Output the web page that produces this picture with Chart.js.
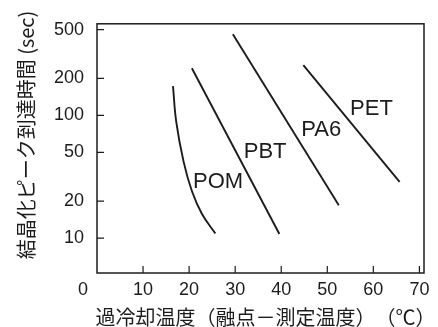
<!DOCTYPE html>
<html>
<head>
<meta charset="utf-8">
<script src="https://cdn.jsdelivr.net/npm/chart.js@4/dist/chart.umd.min.js"></script>
<style>
  html, body { margin: 0; padding: 0; background: #ffffff; }
  #wrap { width: 438px; height: 327px; position: relative; }
</style>
</head>
<body>
<div id="wrap"><canvas id="c" width="438" height="327"></canvas></div>
<script>
// ---- data ----
const seriesNames = ['POM', 'PBT', 'PA6', 'PET'];
const pomX = [16.5, 17.2, 18.8, 20.6, 22.8, 25.7];
const pomY = [173, 89, 42, 24.2, 15.7, 10.9];
const pbtX = [20.6, 39.6];
const pbtY = [242, 10.8];
const pa6X = [29.5, 52.5];
const pa6Y = [457, 18.5];
const petX = [44.8, 65.7];
const petY = [257, 28.7];
const labelX = [26.3, 36.5, 48.7, 59.6];
const labelY = [28.6, 49.9, 76.4, 113];
const xTicks = [10, 20, 30, 40, 50, 60, 70];
const yTicks = [10, 20, 50, 100, 200, 500];
const xTitle = '過冷却温度（融点－測定温度）　（℃）';
const yTitle = '結晶化ピーク到達時間 (sec)';

const pts = (xs, ys) => xs.map((x, i) => ({ x: x, y: ys[i] }));
const allX = [pomX, pbtX, pa6X, petX];
const allY = [pomY, pbtY, pa6Y, petY];

const ink = '#1c1c1c';
const latin = '"Liberation Sans", Arial, sans-serif';
const cjk = '"Noto Sans CJK JP", sans-serif';

const decor = {
  id: 'decor',
  afterDraw(chart) {
    const ctx = chart.ctx;
    const a = chart.chartArea;
    const xs = chart.scales.x, ys = chart.scales.y;
    ctx.save();
    // frame
    ctx.strokeStyle = ink;
    ctx.lineWidth = 1.5;
    ctx.strokeRect(a.left, a.top, a.right - a.left, a.bottom - a.top);
    // inside ticks
    ctx.lineWidth = 1.2;
    ctx.beginPath();
    xs.ticks.forEach(t => {
      const px = xs.getPixelForValue(t.value);
      ctx.moveTo(px, a.bottom);
      ctx.lineTo(px, a.bottom - 7);
    });
    ys.ticks.forEach(t => {
      const py = ys.getPixelForValue(t.value);
      ctx.moveTo(a.left, py);
      ctx.lineTo(a.left + 7, py);
    });
    ctx.stroke();
    ctx.fillStyle = ink;
    ctx.textAlign = 'center';
    ctx.textBaseline = 'middle';
    // corner "0"
    ctx.font = '18px ' + latin;
    ctx.fillText('0', xs.getPixelForValue(0) - 14, a.bottom + 17);
    // series labels
    ctx.font = '22px ' + latin;
    seriesNames.forEach((n, i) => {
      ctx.fillText(n, xs.getPixelForValue(labelX[i]), ys.getPixelForValue(labelY[i]));
    });
    // axis titles
    ctx.font = '20px ' + cjk;
    ctx.fillText(xTitle, 265.5, 317);
    ctx.translate(26, 135);
    ctx.rotate(-Math.PI / 2);
    ctx.fillText(yTitle, 0, 0);
    ctx.restore();
  }
};

new Chart(document.getElementById('c'), {
  type: 'line',
  data: {
    datasets: seriesNames.map((n, i) => ({
      label: n,
      data: pts(allX[i], allY[i]),
      borderColor: ink,
      borderWidth: 1.9,
      pointRadius: 0,
      fill: false,
      tension: i === 0 ? 0.4 : 0
    }))
  },
  options: {
    responsive: false,
    animation: false,
    devicePixelRatio: 1,
    layout: { padding: { top: 21, right: 14, left: 0, bottom: 0 } },
    plugins: { legend: { display: false }, tooltip: { enabled: false } },
    scales: {
      x: {
        type: 'linear',
        min: 0,
        max: 71,
        afterBuildTicks: s => { s.ticks = xTicks.map(v => ({ value: v })); },
        afterFit: s => { s.height = 54; },
        grid: { display: false, drawTicks: false },
        border: { display: false },
        ticks: {
          padding: 6,
          color: ink,
          font: { family: latin, size: 18 }
        },
        title: { display: false, text: xTitle }
      },
      y: {
        type: 'logarithmic',
        min: 5.2,
        max: 557,
        afterBuildTicks: s => { s.ticks = yTicks.map(v => ({ value: v })); },
        afterFit: s => { s.width = 97; },
        grid: { display: false, drawTicks: false },
        border: { display: false },
        ticks: {
          padding: 13,
          color: ink,
          font: { family: latin, size: 18 },
          callback: v => String(v)
        },
        title: { display: false, text: yTitle }
      }
    }
  },
  plugins: [decor]
});
</script>
</body>
</html>
